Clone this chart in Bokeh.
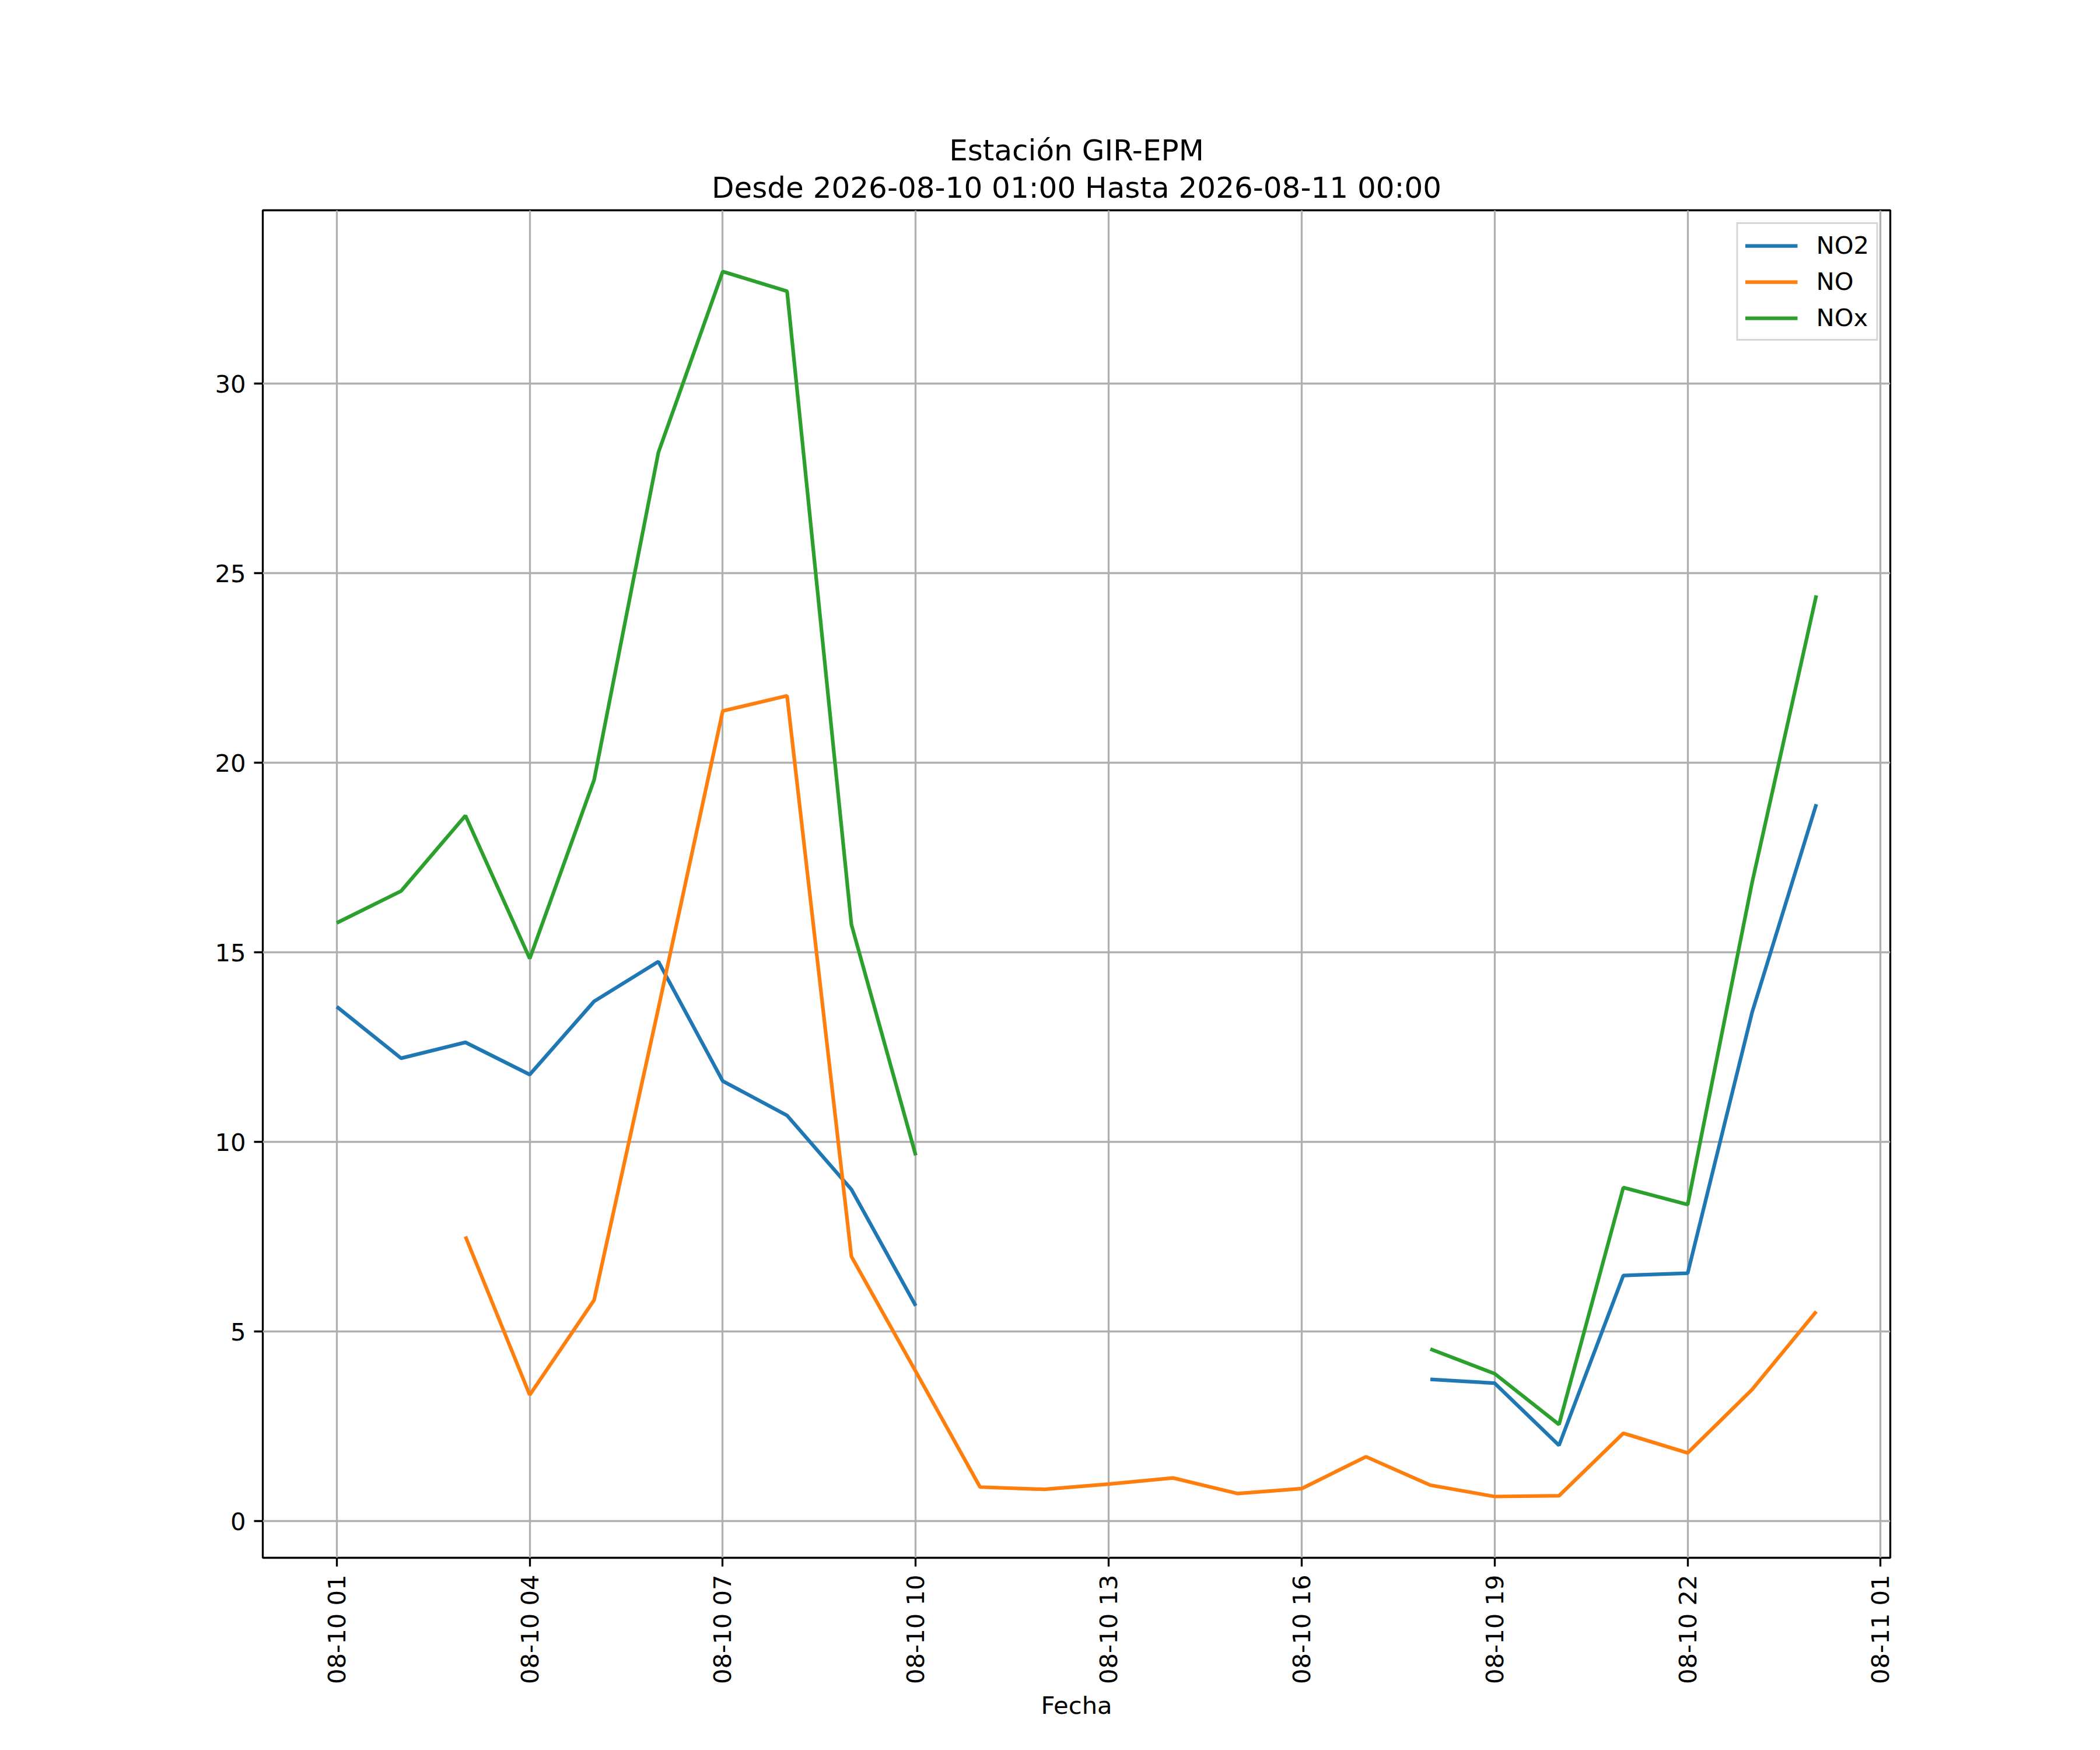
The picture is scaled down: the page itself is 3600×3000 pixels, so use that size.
import numpy as np
import pandas as pd
from bokeh.plotting import figure
from bokeh.models import Range1d, FixedTicker, DatetimeTickFormatter, Title, ColumnDataSource
from bokeh.embed import file_html
from bokeh.resources import INLINE

nan = np.nan
hours = pd.date_range("2026-08-10 01:00", "2026-08-11 00:00", freq="h")
no2 = [13.57, 12.21, 12.63, 11.78, 13.71, 14.76, 11.61, 10.70, 8.75, 5.68,
       nan, nan, nan, nan, nan, nan, nan,
       3.74, 3.64, 2.00, 6.48, 6.54, 13.41, 18.91]
no = [nan, nan, 7.51, 3.33, 5.83, 13.53, 21.37, 21.77, 6.98, 3.95,
      0.90, 0.84, 0.98, 1.14, 0.73, 0.86, 1.70,
      0.95, 0.65, 0.67, 2.32, 1.80, 3.47, 5.53]
nox = [15.78, 16.62, 18.61, 14.84, 19.55, 28.19, 32.96, 32.44, 15.74, 9.65,
       nan, nan, nan, nan, nan, nan, nan,
       4.54, 3.89, 2.55, 8.80, 8.35, 16.83, 24.42]
series_names = ["NO2", "NO", "NOx"]
colors = ["#1f77b4", "#ff7f0e", "#2ca02c"]
y_ticks = [0, 5, 10, 15, 20, 25, 30]
x_ticks = pd.date_range("2026-08-10 01:00", periods=9, freq="3h")
title_1 = "Estación GIR-EPM"
title_2 = "Desde 2026-08-10 01:00 Hasta 2026-08-11 00:00"
x_label = "Fecha"

FONT = "DejaVu Sans"
LW = 3.33

src = ColumnDataSource(dict(x=hours, NO2=no2, NO=no, NOx=nox))

allv = np.array(no2 + no + nox, dtype=float)
vmin, vmax = np.nanmin(allv), np.nanmax(allv)
pad = (vmax - vmin) * 0.05
span = hours[-1] - hours[0]

p = figure(
    frame_width=2790, frame_height=2310,
    min_border_left=450, min_border_right=360,
    min_border_top=360, min_border_bottom=330,
    x_axis_type="datetime",
    x_range=Range1d(hours[0] - span * 0.05, hours[-1] + span * 0.05),
    y_range=Range1d(vmin - pad, vmax + pad),
    output_backend="svg", toolbar_location=None,
    background_fill_color="white", border_fill_color="white",
)
p.title = None

t2 = Title(text=title_2, align="center", text_font=FONT, text_font_size="50px",
           text_font_style="normal", text_color="black", standoff=19)
t1 = Title(text=title_1, align="center", text_font=FONT, text_font_size="50px",
           text_font_style="normal", text_color="black", standoff=-10)
p.add_layout(t2, "above")
p.add_layout(t1, "above")

for name, c in zip(series_names, colors):
    p.line("x", name, source=src, line_color=c, line_width=6.25, legend_label=name)

p.outline_line_color = "black"
p.outline_line_width = LW
p.outline_line_alpha = 1.0

ms_ticks = [float(v) for v in (x_ticks.asi8 // 10**6)]
p.xaxis.ticker = FixedTicker(ticks=ms_ticks)
fmt = "%m-%d %H"
p.xaxis.formatter = DatetimeTickFormatter(
    microseconds=fmt, milliseconds=fmt, seconds=fmt, minsec=fmt, minutes=fmt,
    hourmin=fmt, hours=fmt, days=fmt, months=fmt, years=fmt)
p.xaxis.major_label_orientation = np.pi / 2
p.yaxis.ticker = FixedTicker(ticks=y_ticks)
p.xaxis.axis_label = x_label

for ax in (p.xaxis, p.yaxis):
    ax.axis_line_color = None
    ax.major_tick_line_color = "black"
    ax.major_tick_line_width = LW
    ax.major_tick_out = 15
    ax.major_tick_in = 0
    ax.minor_tick_line_color = None
    ax.major_label_text_font = FONT
    ax.major_label_text_font_size = "41.7px"
    ax.major_label_text_color = "black"
    ax.major_label_standoff = 14
    ax.axis_label_text_font = FONT
    ax.axis_label_text_font_size = "41.7px"
    ax.axis_label_text_font_style = "normal"
    ax.axis_label_text_color = "black"
p.xaxis.axis_label_standoff = 9

for g in (p.xgrid, p.ygrid):
    g.grid_line_color = "#b0b0b0"
    g.grid_line_width = LW

lg = p.legend[0]
lg.location = "top_right"
lg.margin = 21
lg.padding = 12
lg.spacing = 13
lg.glyph_width = 90
lg.glyph_height = 42
lg.label_height = 42
lg.label_standoff = 32
lg.label_text_font = FONT
lg.label_text_font_size = "41.7px"
lg.label_text_color = "black"
lg.border_line_color = "#cccccc"
lg.border_line_alpha = 0.8
lg.border_line_width = LW
lg.background_fill_alpha = 0.8

open("out.html", "w").write(file_html(p, INLINE))
